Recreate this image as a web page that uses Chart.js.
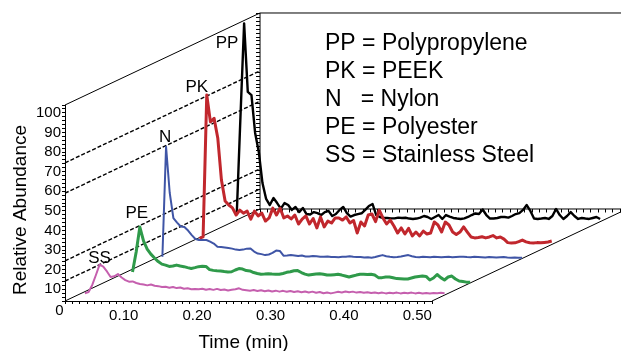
<!DOCTYPE html>
<html><head><meta charset="utf-8">
<script src="https://cdn.jsdelivr.net/npm/chart.js@4.4.1/dist/chart.umd.min.js"></script>
<style>html,body{margin:0;padding:0;background:#fff;overflow:hidden}canvas{display:block}</style>
</head><body>
<canvas id="c" width="621" height="351"></canvas>
<script>
// ---------- data ----------
const seriesNames = ['SS', 'PE', 'N', 'PK', 'PP'];
const legendLines = ['PP = Polypropylene', 'PK = PEEK', 'N   = Nylon', 'PE = Polyester', 'SS = Stainless Steel'];
const xTickLabels = ['0.10', '0.20', '0.30', '0.40', '0.50'];
const yTickLabels = ['10', '20', '30', '40', '50', '60', '70', '80', '90', '100'];
const xTitle = 'Time (min)';
const yTitle = 'Relative Abundance';

const X_MIN = 0.02, X_MAX = 0.52, X_MINOR = 0.01;
const Y_MIN = 4, Y_MAX = 104, Y_MINOR = 2;
const SAMPLE_STEP = 0.005;   // min between samples

const ssStart = 0.028, peStart = 0.0575, nStart = 0.0286, pkStart = 0.0368, ppStart = 0.025;

const ssValues = [0.6,1.2,4.8,9.9,15.2,14.2,11.7,8.9,9.2,10.4,8.6,7.3,6.5,6.6,5.8,5.3,5.0,4.6,5.0,4.4,4.2,3.8,3.9,3.4,3.8,3.2,3.5,2.9,3.1,2.6,2.8,
  2.6,2.9,2.4,2.7,2.3,2.8,2.2,2.5,2.0,2.4,2.6,3.1,2.3,2.1,1.9,2.2,1.7,2.1,1.6,2.0,1.5,1.9,1.4,1.8,1.3,1.7,1.2,1.6,1.1,1.5,
  1.0,1.4,0.8,1.2,0.6,1.0,0.5,0.9,1.3,1.0,1.5,1.1,1.4,0.9,1.2,0.8,1.1,0.7,1.0,0.6,0.9,0.5,0.8,0.6,0.9,0.5,0.8,0.6,0.9,0.5,
  0.8,0.5,0.7,0.5,0.7,0.6,0.8,0.6];
const peValues = [5.2,15.4,28.1,21,16.9,14.3,12.3,10.5,9.2,8.7,8,8.2,8.7,8.2,7.9,7.4,7,7.4,7.9,
  8.1,8,6.4,6,5.8,5.7,5.4,5.2,5.3,6.2,6.9,6.7,5.9,5.7,4.9,4.4,4,4.1,4.3,4.1,4,4,4.4,5,5.3,5.8,5.9,4.9,4.1,3.6,
  3.9,4.2,4.3,4,3.6,3.6,3.8,4,3.6,3.1,2.6,3.1,3.6,4,4,3.9,4,3.6,2.3,2.3,2.6,2.6,2.2,1.8,1.7,1.6,1.6,2.1,2.6,2.9,
  3.1,2.9,1.1,2.1,3.9,2.3,1.1,2.6,3.1,1.6,0.6,0.3,0,0];
const nValues = [0.7,56.8,33.2,20.4,18.1,16.1,15.8,14,11.7,9.7,9.2,9.2,9.2,8.4,7.4,5.8,5.6,5.4,5.1,4.8,
  4.3,4.1,4.3,4.8,4.9,3.3,2.3,2,1.5,1.8,2.6,3.8,3.6,1.2,1.3,1.5,1.3,1,1.3,0.8,0.8,1,
  0.9,0.7,0.6,0.8,0.5,0.5,0.4,0.6,0.7,0.9,0.6,0.5,0.5,0.3,0.4,0.2,0.5,1.0,1.5,0.9,0.6,0.4,0.5,0.8,1.2,1.5,0.9,0.5,
  0.4,0.6,0.5,0.4,0.6,0.5,0.4,0.5,0.6,0.4,0.5,0.6,0.7,0.5,0.4,0.6,0.5,0.4,0.3,0.5,0.4,0.3,0.4,0.5,0.3,0.2,0.3,0.2,0.2];
const pkValues = [2.6,3.3,75.7,62,63.8,53.8,32.3,21.6,19.6,18.1,14.5,17,15.4,16.5,12.4,16.5,14,15.5,11.4,13,18,14.5,
  17.9,13,14,12.5,14.5,9.9,12.4,14,9.9,12.7,7.9,13.5,8.4,11.4,10.4,13,13,11.9,13.5,10.4,
  11.7,5.3,10.9,8.9,14.5,15,11.1,17,13,9.9,11.9,8.9,5.3,7.9,4.8,7.7,3.8,5.8,3.8,6.3,
  4.8,5.3,10.9,9.4,5.8,10.9,9.4,5.8,4.5,5.8,8.4,5.8,3.3,2.8,3,3.4,2.8,3.3,4,2.8,
  3.3,2.2,0.4,0.2,0.3,0.9,1.7,0.8,0.3,0.2,0.4,0.3,0.5,0.7,1.2];
const ppValues = [4.3,53.4,101.2,66.2,64.6,45.3,35.6,19.7,11.6,8.5,12.1,9.5,6.7,9.5,8.5,6,7.5,4.9,7,3.9,
  3.7,4.9,4.4,3.4,4.9,5.5,2.9,3.9,6,7.5,4.4,2.6,3.4,3.9,4.3,6,8,9,3.4,2.4,
  1.9,1.9,1.7,1.7,2.1,1.9,2,1.6,1.4,1.6,2.1,2.9,2.4,1.4,2.4,3.4,1.4,3.4,2.6,1.9,
  1.6,1.4,1.7,2.4,3.4,4.2,3.9,6.2,3.4,1.6,1.6,1.9,2.4,2.4,2.1,2.9,3.9,4.4,6,8.5,
  5.5,1.6,1.4,1.6,1.9,1.4,2.9,6.5,3.4,1.4,2.9,4.9,2.9,1.4,1.9,1.6,1.4,1.9,2.4,1.4];

const guideLevels = [74.5, 59, 24.5, 14.2];   // dashed guide lines on the side wall

// ---------- 3-D projection (depth direction expressed in axis units) ----------
const DEPTH_T = 0.2657, DEPTH_V = 46.94;
const depthFraction = { SS: 0.072, PE: 0.205, N: 0.467, PK: 0.626, PP: 0.862 };
const seriesStyle = {
  SS: { color: '#c55fae', width: 2,   start: ssStart, values: ssValues, order: 1, lab: [0, -2] },
  PE: { color: '#2f9a4a', width: 3,   start: peStart, values: peValues, order: 2, lab: [-3, -9] },
  N:  { color: '#3f55a6', width: 2,   start: nStart,  values: nValues,  order: 3, lab: [-1, -5] },
  PK: { color: '#c1272d', width: 3,   start: pkStart, values: pkValues, order: 4, lab: [-10, -3] },
  PP: { color: '#000000', width: 2.4, start: ppStart, values: ppValues, order: 5, lab: [-17, 25] }
};

const xTickValues = [];
for (let i = 0; X_MIN + i * X_MINOR <= X_MAX + 1e-9; i++) xTickValues.push(+(X_MIN + i * X_MINOR).toFixed(4));
const yTickValues = [];
for (let v = Y_MIN; v <= Y_MAX + 1e-9; v += Y_MINOR) yTickValues.push(v);

function proj(t, v, f) { return { x: t + f * DEPTH_T, y: v + f * DEPTH_V }; }
function seriesData(name) {
  const s = seriesStyle[name], f = depthFraction[name];
  return s.values.map((v, i) => proj(s.start + i * SAMPLE_STEP, Y_MIN + v, f));
}
function lineDs(data, opts) {
  return Object.assign({ data, showLine: true, pointRadius: 0, pointHoverRadius: 0, borderColor: '#000',
    borderWidth: 1, tension: 0, fill: false, clip: false, spanGaps: true }, opts);
}

const datasets = [];
seriesNames.forEach(n => {
  const s = seriesStyle[n];
  datasets.push(lineDs(seriesData(n), { label: n, borderColor: s.color, borderWidth: s.width, order: s.order, borderJoinStyle: 'round' }));
});
guideLevels.forEach(L => datasets.push(lineDs([proj(X_MIN, L, 0), proj(X_MIN, L, 1)], { borderDash: [4, 2], borderWidth: 1.4, order: 6 })));
const frame = [
  [proj(X_MIN, Y_MAX, 0), proj(X_MIN, Y_MAX, 1)],
  [proj(X_MIN, Y_MAX, 1), proj(X_MAX, Y_MAX, 1)],
  [proj(X_MIN, Y_MIN, 1), proj(X_MIN, Y_MAX, 1)],
  [proj(X_MIN, Y_MIN, 1), proj(X_MAX, Y_MIN, 1)],
  [proj(X_MIN, Y_MIN, 0), proj(X_MIN, Y_MIN, 1)],
  [proj(X_MAX, Y_MIN, 0), proj(X_MAX, Y_MIN, 1)]
];
frame.forEach(seg => datasets.push(lineDs(seg, { order: 7 })));

const FONT = "'Liberation Sans', Arial, Helvetica, sans-serif";

const deco = {
  id: 'deco',
  beforeDatasetsDraw(chart) {
    const { ctx, scales: { x, y } } = chart;
    ctx.save();
    ctx.strokeStyle = '#000'; ctx.lineWidth = 1;
    const bx = x.getPixelForValue(X_MIN + DEPTH_T);
    yTickValues.forEach(v => {
      const py = Math.round(y.getPixelForValue(v + DEPTH_V)) + 0.5;
      ctx.beginPath(); ctx.moveTo(bx - 4, py); ctx.lineTo(bx, py); ctx.stroke();
    });
    const by = y.getPixelForValue(Y_MIN + DEPTH_V);
    xTickValues.forEach(t => {
      const px = Math.round(x.getPixelForValue(t + DEPTH_T)) + 0.5;
      ctx.beginPath(); ctx.moveTo(px, by); ctx.lineTo(px, by + 3.5); ctx.stroke();
    });
    ctx.restore();
  },
  afterDraw(chart) {
    const { ctx, scales: { x, y } } = chart;
    ctx.save();
    ctx.fillStyle = '#000';
    // series labels, anchored to each peak
    ctx.font = '17px ' + FONT; ctx.textAlign = 'center'; ctx.textBaseline = 'alphabetic';
    seriesNames.forEach(n => {
      const s = seriesStyle[n], f = depthFraction[n];
      let k = 0; s.values.forEach((v, i) => { if (v > s.values[k]) k = i; });
      const p = proj(s.start + k * SAMPLE_STEP, Y_MIN + s.values[k], f);
      ctx.fillText(n, x.getPixelForValue(p.x) + s.lab[0], y.getPixelForValue(p.y) + s.lab[1]);
    });
    // key
    ctx.font = '23px ' + FONT; ctx.textAlign = 'left';
    legendLines.forEach((t, i) => ctx.fillText(t, 325, 49.5 + i * 28.2));
    // axis titles
    ctx.font = '19px ' + FONT; ctx.textAlign = 'center';
    ctx.fillText(xTitle, 243.5, 348);
    ctx.save(); ctx.translate(25.5, 210); ctx.rotate(-Math.PI / 2); ctx.fillText(yTitle, 0, 0); ctx.restore();
    // corner zero
    ctx.font = '15px ' + FONT; ctx.textAlign = 'center';
    ctx.fillText('0', 59.5, 315);
    ctx.restore();
  }
};

const tickFont = { family: FONT, size: 15 };
new Chart(document.getElementById('c'), {
  type: 'scatter',
  data: { datasets },
  options: {
    responsive: false, animation: false, devicePixelRatio: 1, events: [],
    layout: { padding: { left: 0, right: 189, top: 105, bottom: 0 } },
    plugins: { legend: { display: false }, tooltip: { enabled: false } },
    scales: {
      x: {
        type: 'linear', bounds: 'data', grace: 0,
        afterDataLimits: s => { s.min = X_MIN; s.max = X_MAX; },
        afterBuildTicks: s => { s.ticks = xTickValues.map(v => ({ value: v })); s.min = X_MIN; s.max = X_MAX; },
        afterFit: s => { s.height = 50; },
        ticks: { autoSkip: false, maxRotation: 0, minRotation: 0, padding: 3, color: '#000', font: tickFont,
          callback: v => xTickLabels.find(l => Math.abs(parseFloat(l) - v) < 1e-6) || '' },
        grid: { display: true, drawOnChartArea: false, drawTicks: true, tickLength: 3, color: '#000', lineWidth: 1 },
        border: { display: true, color: '#000', width: 1 }
      },
      y: {
        type: 'linear', bounds: 'data', grace: 0, beginAtZero: false,
        afterDataLimits: s => { s.min = Y_MIN; s.max = Y_MAX; },
        afterBuildTicks: s => { s.ticks = yTickValues.map(v => ({ value: v })); s.min = Y_MIN; s.max = Y_MAX; },
        afterFit: s => { s.width = 65; },
        ticks: { autoSkip: false, padding: 1, color: '#000', font: tickFont,
          callback: v => yTickLabels.find(l => Math.abs(parseFloat(l) - v) < 1e-6) || '' },
        grid: { display: true, drawOnChartArea: false, drawTicks: true, tickLength: 3, color: '#000', lineWidth: 1 },
        border: { display: true, color: '#000', width: 1 }
      }
    }
  },
  plugins: [deco]
});
</script>
</body></html>
